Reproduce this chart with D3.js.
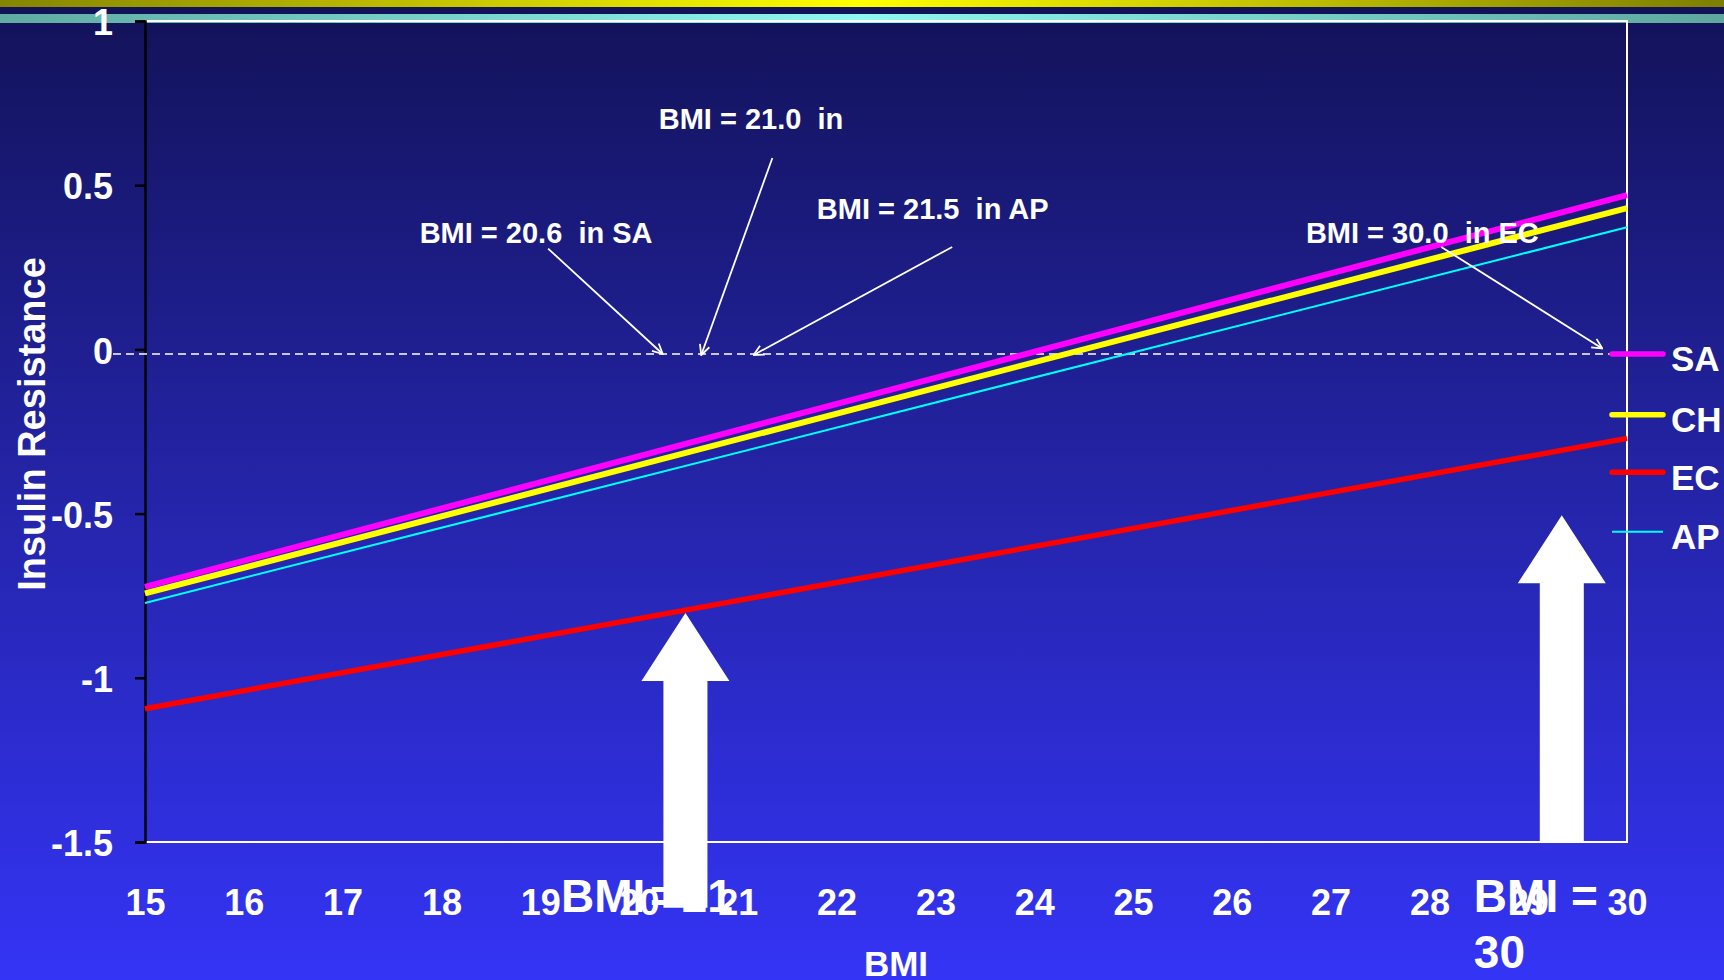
<!DOCTYPE html>
<html>
<head>
<meta charset="utf-8">
<script src="https://cdn.jsdelivr.net/npm/d3@7"></script>
<style>
  html, body { margin: 0; padding: 0; background: #131360; overflow: hidden; }
  svg { display: block; }
  text { font-family: "Liberation Sans", Arial, Helvetica, sans-serif; font-weight: bold; fill: #ffffff; }
  .pre { white-space: pre; }
</style>
</head>
<body>
<svg id="chart" width="1724" height="980"></svg>
<script>
// ---------------- data ----------------
const bmiDomain = [15, 30];
const seriesNames = ["SA", "CH", "EC", "AP"];
const seriesColors = ["#ff00ff", "#ffff00", "#ff0000", "#00ffff"];
const saValues = [-0.723, 0.470];   // at BMI 15 and 30
const chValues = [-0.743, 0.430];
const ecValues = [-1.094, -0.271];
const apValues = [-0.772, 0.372];
const xTickValues = [15, 16, 17, 18, 19, 20, 21, 22, 23, 24, 25, 26, 27, 28, 29, 30];
const yTickValues = [1, 0.5, 0, -0.5, -1, -1.5];
const yTickLabels = ["1", "0.5", "0", "-0.5", "-1", "-1.5"];
const referenceLevel = -0.014;     // dashed reference line
const calloutTexts = ["BMI = 20.6  in SA", "BMI = 21.0  in", "BMI = 21.5  in AP", "BMI = 30.0  in EC"];
const calloutTextPos = [[17.78, 0.325], [20.20, 0.671], [21.80, 0.396], [26.75, 0.323]];
const calloutArrowFrom = [[19.08, 0.307], [21.35, 0.583], [23.17, 0.312], [28.12, 0.312]];
const calloutArrowTo = [[20.24, -0.014], [20.63, -0.017], [21.16, -0.017], [29.75, 0.003]];
const blockArrowX = [20.47, 29.34];
const blockArrowTip = [-0.803, -0.505];
const blockArrowBase = [-1.70, -1.5];
const bigLabels = [["BMI = 21"], ["BMI =", "30"]];
const bigLabelX = [19.21, 28.45];

// ---------------- layout ----------------
const svg = d3.select("#chart");
const W = 1724, H = 980;
const x = d3.scaleLinear().domain(bmiDomain).range([145, 1627]);
const y = d3.scaleLinear().domain([1, -1.5]).range([21, 842]);

const defs = svg.append("defs");
const bg = defs.append("linearGradient").attr("id", "bg").attr("x1", 0).attr("y1", 0).attr("x2", 0).attr("y2", 1);
bg.append("stop").attr("offset", "0%").attr("stop-color", "#121258");
bg.append("stop").attr("offset", "50%").attr("stop-color", "#2424a8");
bg.append("stop").attr("offset", "100%").attr("stop-color", "#3434f6");
const yel = defs.append("linearGradient").attr("id", "yel").attr("x1", 0).attr("y1", 0).attr("x2", 1).attr("y2", 0);
yel.append("stop").attr("offset", "0%").attr("stop-color", "#858500");
yel.append("stop").attr("offset", "50%").attr("stop-color", "#ffff00");
yel.append("stop").attr("offset", "100%").attr("stop-color", "#7e7e00");
const teal = defs.append("linearGradient").attr("id", "teal").attr("x1", 0).attr("y1", 0).attr("x2", 1).attr("y2", 0);
teal.append("stop").attr("offset", "0%").attr("stop-color", "#60aba2");
teal.append("stop").attr("offset", "50%").attr("stop-color", "#8ef8ee");
teal.append("stop").attr("offset", "100%").attr("stop-color", "#5ea79e");
defs.append("marker").attr("id", "open").attr("viewBox", "0 0 12 12")
  .attr("refX", 11).attr("refY", 6).attr("markerWidth", 12).attr("markerHeight", 12)
  .attr("markerUnits", "userSpaceOnUse").attr("orient", "auto")
  .append("path").attr("d", "M1,1 L11,6 L1,11").attr("fill", "none")
  .attr("stroke", "#fff").attr("stroke-width", 1.8);

svg.append("rect").attr("width", W).attr("height", H).attr("fill", "url(#bg)");
svg.append("rect").attr("x", 0).attr("y", 0).attr("width", W).attr("height", 7).attr("fill", "url(#yel)");
svg.append("rect").attr("x", 0).attr("y", 14).attr("width", W).attr("height", 9).attr("fill", "url(#teal)");

// frame
svg.append("path")
  .attr("d", `M${x(15)},${y(1)} H${x(30)} V${y(-1.5)} H${x(15)}`)
  .attr("fill", "none").attr("stroke", "#ffffff").attr("stroke-width", 2);

// y axis
const yAxis = d3.axisLeft(y).tickValues(yTickValues)
  .tickFormat((d, i) => yTickLabels[i]).tickSize(10).tickPadding(22);
const gy = svg.append("g").attr("transform", `translate(${x(15)},0)`).call(yAxis);
gy.select(".domain").attr("stroke", "#000").attr("stroke-width", 2.5);
gy.selectAll(".tick line").attr("stroke", "#000").attr("stroke-width", 2.5);
gy.selectAll(".tick text").attr("fill", "#fff").attr("font-size", 36).attr("dy", "0.38em")
  .style("font-family", '"Liberation Sans", Arial, sans-serif').style("font-weight", "bold");

// x axis
const xAxis = d3.axisBottom(x).tickValues(xTickValues).tickFormat(d3.format("d")).tickSize(0).tickPadding(0);
const gx = svg.append("g").attr("transform", `translate(0,${y(-1.5)})`).call(xAxis);
gx.select(".domain").remove();
gx.selectAll(".tick text").attr("fill", "#fff").attr("font-size", 36).attr("y", 73).attr("dy", 0)
  .style("font-family", '"Liberation Sans", Arial, sans-serif').style("font-weight", "bold");

// axis titles
svg.append("text").attr("transform", `translate(45,424)rotate(-90)`)
  .attr("text-anchor", "middle").attr("font-size", 38).text("Insulin Resistance");
svg.append("text").attr("x", 896).attr("y", 976)
  .attr("text-anchor", "middle").attr("font-size", 35).text("BMI");

// dashed reference line
svg.append("line").attr("x1", 113).attr("x2", 1610)
  .attr("y1", y(referenceLevel)).attr("y2", y(referenceLevel))
  .attr("stroke", "#fff").attr("stroke-width", 1.6).attr("stroke-dasharray", "8,5");

// series lines
const seriesData = [saValues, chValues, ecValues, apValues];
const seriesWidths = [6, 6, 5.5, 2];
const lineGen = d3.line().x(d => x(d[0])).y(d => y(d[1]));
const drawOrder = [2, 3, 1, 0];
drawOrder.forEach(i => {
  svg.append("path")
    .datum(bmiDomain.map((b, j) => [b, seriesData[i][j]]))
    .attr("d", lineGen).attr("fill", "none")
    .attr("stroke", seriesColors[i]).attr("stroke-width", seriesWidths[i]);
});

// legend
const legendY = [-0.014, -0.199, -0.374, -0.555];
seriesNames.forEach((name, i) => {
  const g = svg.append("g").attr("transform", `translate(0,${y(legendY[i])})`);
  g.append("line").attr("x1", 1612).attr("x2", 1663).attr("y1", 0).attr("y2", 0)
    .attr("stroke", seriesColors[i]).attr("stroke-width", i === 3 ? 2 : 5.5)
    .attr("stroke-linecap", i === 3 ? "butt" : "round");
  g.append("text").attr("x", 1671).attr("y", 17.5).attr("font-size", 35).text(name);
});

// callouts
calloutTexts.forEach((t, i) => {
  svg.append("text").attr("class", "pre")
    .attr("x", x(calloutTextPos[i][0])).attr("y", y(calloutTextPos[i][1]))
    .attr("font-size", 29).text(t);
  svg.append("line")
    .attr("x1", x(calloutArrowFrom[i][0])).attr("y1", y(calloutArrowFrom[i][1]))
    .attr("x2", x(calloutArrowTo[i][0])).attr("y2", y(calloutArrowTo[i][1]))
    .attr("stroke", "#fff").attr("stroke-width", 1.8).attr("marker-end", "url(#open)");
});

// big labels (under the block arrows)
bigLabels.forEach((lines, i) => {
  const t = svg.append("text").attr("class", "pre").attr("font-size", 46)
    .attr("x", x(bigLabelX[i])).attr("y", 912).attr("word-spacing", i === 0 ? -8 : 0);
  lines.forEach((ln, k) => {
    t.append("tspan").attr("x", x(bigLabelX[i])).attr("dy", k === 0 ? 0 : 56).text(ln);
  });
});

// block arrows
const headHalf = 44, shaftHalf = 22, headLen = 68;
blockArrowX.forEach((bx, i) => {
  const cx = x(bx), ty = y(blockArrowTip[i]), by = y(blockArrowBase[i]);
  const hb = ty + headLen;
  const pts = [[cx, ty], [cx + headHalf, hb], [cx + shaftHalf, hb], [cx + shaftHalf, by],
               [cx - shaftHalf, by], [cx - shaftHalf, hb], [cx - headHalf, hb]];
  svg.append("polygon").attr("points", pts.map(p => p.join(",")).join(" ")).attr("fill", "#ffffff");
});
</script>
</body>
</html>
